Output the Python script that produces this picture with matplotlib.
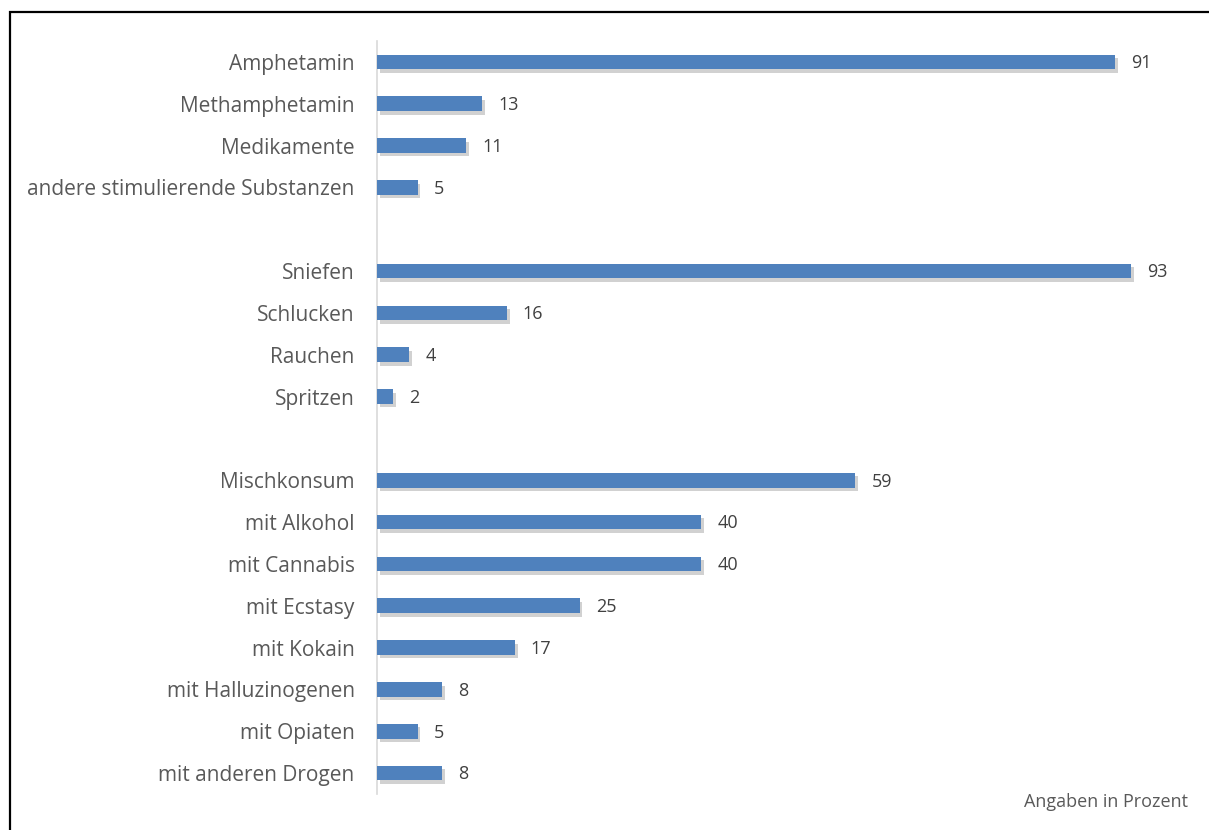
import matplotlib
matplotlib.use("Agg")
import matplotlib.pyplot as plt
import matplotlib.patheffects as pe
from matplotlib.patches import Rectangle

# data, top to bottom; None = empty spacer row between groups
labels = ["Amphetamin", "Methamphetamin", "Medikamente", "andere stimulierende Substanzen",
          None,
          "Sniefen", "Schlucken", "Rauchen", "Spritzen",
          None,
          "Mischkonsum", "mit Alkohol", "mit Cannabis", "mit Ecstasy", "mit Kokain",
          "mit Halluzinogenen", "mit Opiaten", "mit anderen Drogen"]
values = [91, 13, 11, 5, None, 93, 16, 4, 2, None, 59, 40, 40, 25, 17, 8, 5, 8]
note = "Angaben in Prozent"

plt.rcParams['font.family'] = ['Open Sans', 'DejaVu Sans']

fig = plt.figure(figsize=(12.09, 8.30), dpi=100)
ax = fig.add_axes([0.3118, 0.0434, 0.6708, 0.9072])

pos = list(range(len(labels)))
for y, lab, v in zip(pos, labels, values):
    if v is None:
        continue
    b = ax.barh(y, v, height=0.35, color="#4f81bd", zorder=3)
    for p in b:
        p.set_path_effects([pe.SimplePatchShadow(offset=(2, -2.5), shadow_rgbFace="#8c8c8c", alpha=0.4),
                            pe.Normal()])
    ax.annotate(str(v), (v, y), xytext=(11.5, -1), textcoords="offset points",
                va="center", ha="left", fontsize=13, color="#404040")

ax.set_yticks([p for p, l in zip(pos, labels) if l is not None])
ax.set_yticklabels([l for l in labels if l is not None], fontsize=15, color="#595959")
ax.tick_params(axis="y", length=0, pad=16)
ax.set_xticks([])
ax.set_xlim(0, 100)
ax.set_ylim(len(labels) - 0.5, -0.5)
for s in ["top", "right", "bottom"]:
    ax.spines[s].set_visible(False)
ax.spines["left"].set_color("#d9d9d9")
ax.spines["left"].set_linewidth(1.2)

fig.text(0.983, 0.034, note, ha="right", va="center", fontsize=13, color="#595959")

# outer frame, cut off at right and bottom like the original
fig.patches.append(Rectangle((10 / 1209, -0.1), 1.2, 1 - 12 / 830 + 0.1, transform=fig.transFigure,
                             fill=False, edgecolor="black", linewidth=1.6))

fig.savefig("out.png", dpi=100)
